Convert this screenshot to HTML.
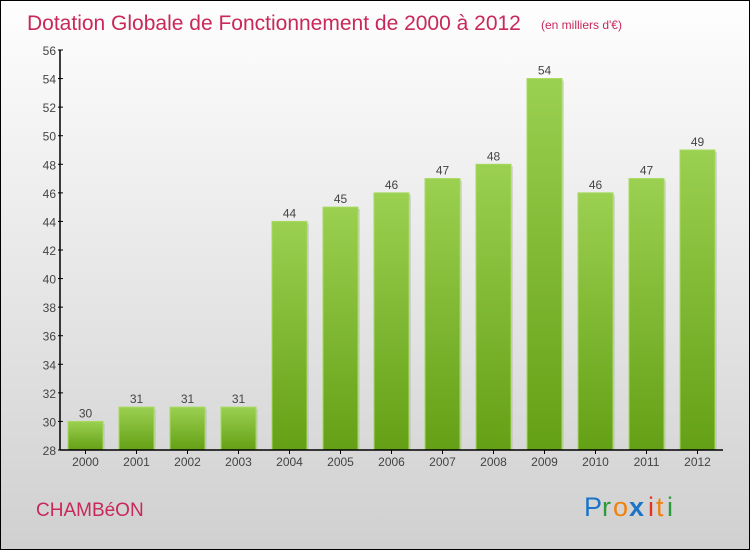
<!DOCTYPE html>
<html><head><meta charset="utf-8"><style>
body{margin:0}
#c{width:748px;height:548px;border:1px solid #000;background:linear-gradient(#fefefe,#d0d0d0);position:relative;font-family:"Liberation Sans",sans-serif;overflow:hidden}
</style></head><body>
<div id="c">
<svg width="748" height="548" id="s">
<defs><linearGradient id="g" x1="0" y1="0" x2="0" y2="1"><stop offset="0" stop-color="#9bd050"/><stop offset="1" stop-color="#64a016"/></linearGradient></defs>
<text x="26" y="29" font-size="21" fill="#c8285a">Dotation Globale de Fonctionnement de 2000 à 2012</text>
<text x="540" y="28" font-size="12" fill="#c8285a">(en milliers d'€)</text>
<text x="35" y="515" font-size="19" fill="#c8285a">CHAMBéON</text>
<g font-size="27" font-family="'Liberation Sans',sans-serif">
<text x="583" y="515" fill="#1a74c8">P</text><text x="601" y="515" fill="#2a9a3a">r</text><text x="612" y="515" fill="#f08010">o</text><text x="628" y="515" fill="#1a74c8" font-weight="bold">x</text><text x="647" y="515" fill="#e83020">i</text><text x="655" y="515" fill="#f08010">t</text><text x="666" y="515" fill="#2a9a3a">i</text></g>
<g id="plot"></g>
</svg></div>
<script>
const categories=["2000","2001","2002","2003","2004","2005","2006","2007","2008","2009","2010","2011","2012"];
const values=[30,31,31,31,44,45,46,47,48,54,46,47,49];
const yTicks=[28,30,32,34,36,38,40,42,44,46,48,50,52,54,56];
const ns="http://www.w3.org/2000/svg",p=document.getElementById('plot');
const x0=59,y0=449,yTop=49,band=51,bw=35,yMin=28,yMax=56;
const Y=v=>y0-(v-yMin)/(yMax-yMin)*(y0-yTop);
function mk(t,a,txt){const e=document.createElementNS(ns,t);for(const k in a)e.setAttribute(k,a[k]);if(txt!=null)e.textContent=txt;p.appendChild(e);return e;}
categories.forEach((c,i)=>{
 const cx=x0+band*i+band/2,v=values[i];
 const r=mk('rect',{x:cx-bw/2+2,y:Y(v)+2,width:bw,height:y0-Y(v)-2,fill:'#bbb',opacity:0.5});
 
 
 const b=mk('rect',{x:cx-bw/2,y:Y(v),width:bw,height:y0-Y(v),fill:'url(#g)',stroke:'#a6da5e','stroke-width':1});
 
 
 const l=mk('text',{x:cx,y:Y(v)-4,'font-size':12,fill:'#444','text-anchor':'middle'},String(v));
 
 
 const t=mk('text',{x:cx,y:y0+16,'font-size':12,fill:'#444','text-anchor':'middle'},c);
 
 
 const tk=mk('line',{x1:cx,x2:cx,y1:y0,y2:y0+4,stroke:'#000'});
 
 
});
yTicks.forEach(v=>{
 const t=mk('text',{x:x0-4,y:Y(v)+5,'font-size':12,fill:'#444','text-anchor':'end'},String(v));
 
 
 const l=mk('line',{x1:x0-2,x2:x0+3,y1:Y(v),y2:Y(v),stroke:'#000'});
 
 
});
const ya=mk('line',{x1:x0,x2:x0,y1:yTop,y2:y0,stroke:'#000','stroke-width':1.5});


const xa=mk('line',{x1:x0,x2:x0+band*13,y1:y0,y2:y0,stroke:'#000','stroke-width':1.5});


</script>
</body></html>
